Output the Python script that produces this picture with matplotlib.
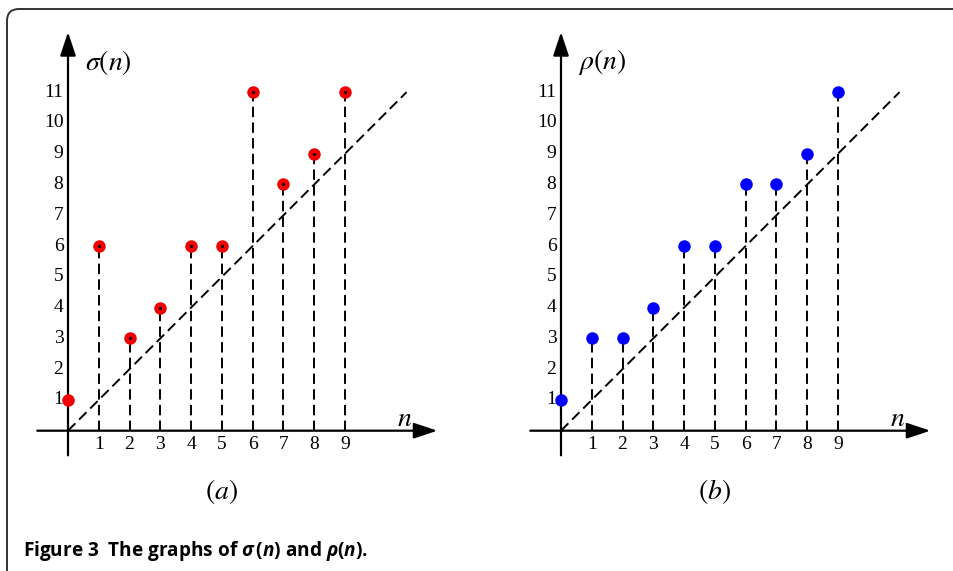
import matplotlib
matplotlib.use('Agg')
import matplotlib.pyplot as plt
from matplotlib.patches import FancyBboxPatch
from matplotlib.transforms import IdentityTransform

plt.rcParams['lines.scale_dashes'] = False
plt.rcParams['mathtext.fontset'] = 'custom'
plt.rcParams['mathtext.rm'] = 'Open Sans:bold'
plt.rcParams['mathtext.it'] = 'Open Sans:italic:bold'
plt.rcParams['mathtext.bf'] = 'Open Sans:bold'

# data
n_vals = [0, 1, 2, 3, 4, 5, 6, 7, 8, 9]
sigma_vals = [1, 6, 3, 4, 6, 6, 11, 8, 9, 11]
rho_vals = [1, 3, 3, 4, 6, 6, 8, 8, 9, 11]
y_ticks = list(range(1, 12))
x_ticks = list(range(1, 10))
diag = [0, 11]

W, H = 954, 571
UNIT = 30.78
XLIM = (-1.3, 12.3)
YLIM = (-1.0, 13.1)
DASH = (0, (7.5, 3.8))

fig = plt.figure(figsize=(W / 100, H / 100), dpi=100)


def make_axes(ox, oy):
    # ox, oy: origin pixel position (from top-left)
    left = ox + XLIM[0] * UNIT
    bottom = (H - oy) + YLIM[0] * UNIT
    w = (XLIM[1] - XLIM[0]) * UNIT
    h = (YLIM[1] - YLIM[0]) * UNIT
    ax = fig.add_axes([left / W, bottom / H, w / W, h / H])
    ax.set_xlim(*XLIM)
    ax.set_ylim(*YLIM)
    ax.axis('off')
    return ax


def draw_panel(ax, vals, color, ylab, small_dot):
    # axes with arrows
    arr = dict(arrowstyle='-|>,head_length=0.72,head_width=0.24', mutation_scale=20,
               lw=1.6, color='black', shrinkA=0, shrinkB=0)
    ax.annotate('', xy=(12.0, 0), xytext=(-1.0, 0), arrowprops=arr)
    ax.annotate('', xy=(0, 12.95), xytext=(0, -0.8), arrowprops=arr)

    # stems
    for n, v in zip(n_vals[1:], vals[1:]):
        ax.plot([n, n], [0, v], color='black', lw=1.4, linestyle=DASH, zorder=2)
    ax.plot(diag, diag, color='black', lw=1.4, linestyle=DASH, zorder=2)

    ax.plot(n_vals, vals, 'o', color=color, ms=9, mec='none', zorder=3)
    if small_dot:
        ax.plot(n_vals[1:], vals[1:], 'o', color='black', ms=1.2, zorder=4)

    for k in y_ticks:
        ax.text(-0.15, k, str(k), ha='right', va='center', fontsize=14,
                family='Liberation Serif')
    for k in x_ticks:
        ax.text(k, -0.45, str(k), ha='center', va='center', fontsize=14,
                family='Liberation Serif')

    ax.text(0.55, 11.97, ylab, ha='left', va='center', fontsize=20,
            math_fontfamily='stix')
    ax.text(10.95, 0.42, r'$n$', ha='center', va='center', fontsize=20,
            math_fontfamily='stix')


ax1 = make_axes(68, 430.7)
draw_panel(ax1, sigma_vals, '#f00000', r'$\sigma(n)$', True)
ax2 = make_axes(561, 430.7)
draw_panel(ax2, rho_vals, '#0000ff', r'$\rho(n)$', False)

fig.text(222 / W, 1 - 492 / H, r'$(a)$', ha='center', va='center', fontsize=20,
         math_fontfamily='stix')
fig.text(714 / W, 1 - 492 / H, r'$(b)$', ha='center', va='center', fontsize=20,
         math_fontfamily='stix')

fig.text(23 / W, 1 - 556 / H, r'Figure 3  The graphs of $\sigma\,(n)$ and $\rho(n)$.',
         ha='left', va='baseline', fontsize=13.7, fontweight='bold', family='Open Sans')

# frame (only top and left edges visible)
frame = FancyBboxPatch((7, -60), 1100, H - 9 + 60, boxstyle='round,pad=0,rounding_size=12',
                       transform=IdentityTransform(), fill=False, ec='#333333', lw=1.4)
fig.add_artist(frame)

fig.savefig('out.png', dpi=100)
